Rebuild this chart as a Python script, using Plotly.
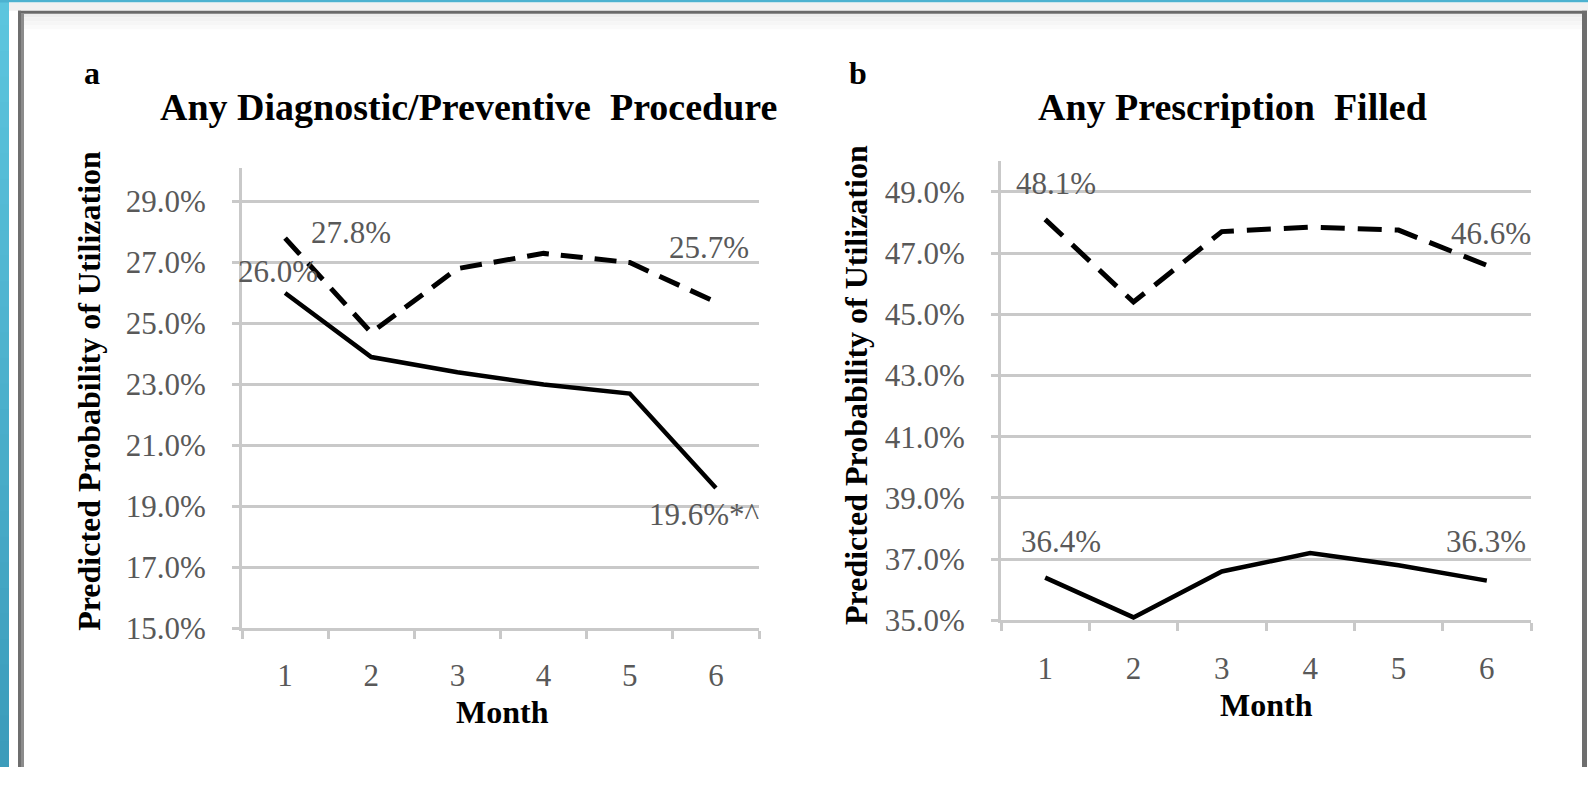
import plotly.graph_objects as go

# ---------------- data ----------------
months = ["1", "2", "3", "4", "5", "6"]

# Panel a: Any Diagnostic/Preventive Procedure (%)
diag_solid = [26.0, 23.9, 23.4, 23.0, 22.7, 19.6]
diag_dashed = [27.8, 24.7, 26.8, 27.3, 27.0, 25.7]

# Panel b: Any Prescription Filled (%)
rx_solid = [36.4, 35.1, 36.6, 37.2, 36.8, 36.3]
rx_dashed = [48.1, 45.4, 47.7, 47.85, 47.75, 46.6]

diag_ticks = [15, 17, 19, 21, 23, 25, 27, 29]
rx_ticks = [35, 37, 39, 41, 43, 45, 47, 49]
diag_ticktext = [f"{v:.1f}%" for v in diag_ticks]
rx_ticktext = [f"{v:.1f}%" for v in rx_ticks]

# ---------------- figure ----------------
W, H = 1588, 785
SERIF = "Liberation Serif, Times New Roman, serif"
GRID = "#c9c9c9"
LABEL = "#595959"

fig = go.Figure()

fig.add_trace(go.Scatter(x=months, y=diag_solid, mode="lines",
                         line=dict(color="black", width=4.5),
                         xaxis="x", yaxis="y", showlegend=False))
fig.add_trace(go.Scatter(x=months, y=diag_dashed, mode="lines",
                         line=dict(color="black", width=5, dash="22px,12px"),
                         xaxis="x", yaxis="y", showlegend=False))
fig.add_trace(go.Scatter(x=months, y=rx_solid, mode="lines",
                         line=dict(color="black", width=4.5),
                         xaxis="x2", yaxis="y2", showlegend=False))
fig.add_trace(go.Scatter(x=months, y=rx_dashed, mode="lines",
                         line=dict(color="black", width=5, dash="24px,13px"),
                         xaxis="x2", yaxis="y2", showlegend=False))


def px(x):
    return x / W


def py(y):
    return 1 - y / H


xaxis_common = dict(
    type="category", range=[-0.5, len(months) - 0.5],
    tickson="boundaries", ticks="outside", ticklen=8,
    tickwidth=2.5, tickcolor=GRID, showline=True, linecolor=GRID, linewidth=3,
    showgrid=False, zeroline=False, ticklabelstandoff=18,
    tickfont=dict(family=SERIF, size=31, color=LABEL), fixedrange=True,
)
yaxis_common = dict(
    ticks="outside", ticklen=7, tickwidth=3, tickcolor=GRID,
    showline=True, linecolor=GRID, linewidth=3,
    showgrid=True, gridcolor=GRID, gridwidth=3, zeroline=False,
    ticklabelstandoff=20,
    tickfont=dict(family=SERIF, size=31, color=LABEL), fixedrange=True,
)

fig.update_layout(
    width=W, height=H,
    margin=dict(l=0, r=0, t=0, b=0),
    paper_bgcolor="white", plot_bgcolor="white",
    xaxis=dict(domain=[px(242), px(759)], anchor="y", **xaxis_common),
    yaxis=dict(domain=[py(643), py(172)], anchor="x", range=[15, 30.1],
               tickvals=diag_ticks, ticktext=diag_ticktext, **yaxis_common),
    xaxis2=dict(domain=[px(1001), px(1531)], anchor="y2", **xaxis_common),
    yaxis2=dict(domain=[py(635), py(165)], anchor="x2", range=[35, 50],
                tickvals=rx_ticks, ticktext=rx_ticktext, **yaxis_common),
)

# ---------------- frame decoration ----------------
shapes = []
# left blue strip with vertical gradient (overlapping bands)
n = 30
c0 = (92, 197, 222)
c1 = (60, 156, 187)
for i in range(n):
    t = i / (n - 1)
    c = tuple(int(round(a + (b - a) * t)) for a, b in zip(c0, c1))
    shapes.append(dict(type="rect", xref="paper", yref="paper",
                       x0=0, x1=px(9), y0=max(0, 1 - (i + 1) / n - 0.004),
                       y1=1 - i / n,
                       fillcolor=f"rgb{c}", line=dict(width=0)))
# top blue strip
shapes.append(dict(type="rect", xref="paper", yref="paper",
                   x0=0, x1=1, y0=py(2.5), y1=1,
                   fillcolor="rgb(76,178,208)", line=dict(width=0)))
# light band between blue and frame
shapes.append(dict(type="rect", xref="paper", yref="paper",
                   x0=px(9), x1=1, y0=py(11), y1=py(2.5),
                   fillcolor="#f1f1f1", line=dict(width=0)))
# light gradient under top frame line
for i, col in enumerate(["#ededed", "#f2f2f2", "#f6f6f6", "#fafafa"]):
    shapes.append(dict(type="rect", xref="paper", yref="paper",
                       x0=px(24), x1=px(1582), y0=py(14 + 4 * (i + 1)), y1=py(14 + 4 * i),
                       fillcolor=col, line=dict(width=0)))
# dark frame lines
shapes.append(dict(type="rect", xref="paper", yref="paper",
                   x0=px(18), x1=px(1587), y0=py(14), y1=py(11),
                   fillcolor="#6a6a6a", line=dict(width=0)))
shapes.append(dict(type="rect", xref="paper", yref="paper",
                   x0=px(18), x1=px(21), y0=0, y1=py(11),
                   fillcolor="#6e6e6e", line=dict(width=0)))
shapes.append(dict(type="rect", xref="paper", yref="paper",
                   x0=px(21), x1=px(24), y0=0, y1=py(14),
                   fillcolor="#8c8c8c", line=dict(width=0)))
shapes.append(dict(type="rect", xref="paper", yref="paper",
                   x0=px(1582), x1=px(1587), y0=0, y1=py(11),
                   fillcolor="#6e6e6e", line=dict(width=0)))
fig.update_layout(shapes=shapes)

# ---------------- text ----------------
ann = []


def txt(x, y, s, size=32, bold=True, color="black", angle=0):
    ann.append(dict(xref="paper", yref="paper", x=px(x), y=py(y), text=s,
                    showarrow=False, xanchor="center", yanchor="middle",
                    textangle=angle,
                    font=dict(family=SERIF, size=size, color=color,
                              weight="bold" if bold else "normal")))


txt(92, 75, "a")
txt(858, 75, "b")
txt(468, 110, "Any Diagnostic/Preventive&nbsp; Procedure", size=38)
txt(1232, 110, "Any Prescription&nbsp; Filled", size=38)
txt(89, 400, "Predicted Probability of Utilization", size=32, angle=-90)
txt(856, 394, "Predicted Probability of Utilization", size=32, angle=-90)
txt(502, 729, "Month", size=32)
txt(1266, 722, "Month", size=32)


def dlabel(xa, ya, ys, idx, s, dx, dy):
    # x given as the category index of months[idx]
    ann.append(dict(xref=xa, yref=ya, x=idx, y=ys[idx], text=s,
                    showarrow=False, xanchor="center", yanchor="middle",
                    xshift=dx, yshift=dy,
                    font=dict(family=SERIF, size=31, color=LABEL)))


dlabel("x", "y", diag_solid, 0, f"{diag_solid[0]:.1f}%", -7, 22)
dlabel("x", "y", diag_dashed, 0, f"{diag_dashed[0]:.1f}%", 66, 6)
dlabel("x", "y", diag_dashed, 5, f"{diag_dashed[5]:.1f}%", -7, 55)
dlabel("x", "y", diag_solid, 5, f"{diag_solid[5]:.1f}%*^", -11, -26)
dlabel("x2", "y2", rx_dashed, 0, f"{rx_dashed[0]:.1f}%", 11, 36)
dlabel("x2", "y2", rx_dashed, 5, f"{rx_dashed[5]:.1f}%", 4, 32)
dlabel("x2", "y2", rx_solid, 0, f"{rx_solid[0]:.1f}%", 16, 36)
dlabel("x2", "y2", rx_solid, 5, f"{rx_solid[5]:.1f}%", -1, 39)

fig.update_layout(annotations=ann)

fig.write_html("out.html")
